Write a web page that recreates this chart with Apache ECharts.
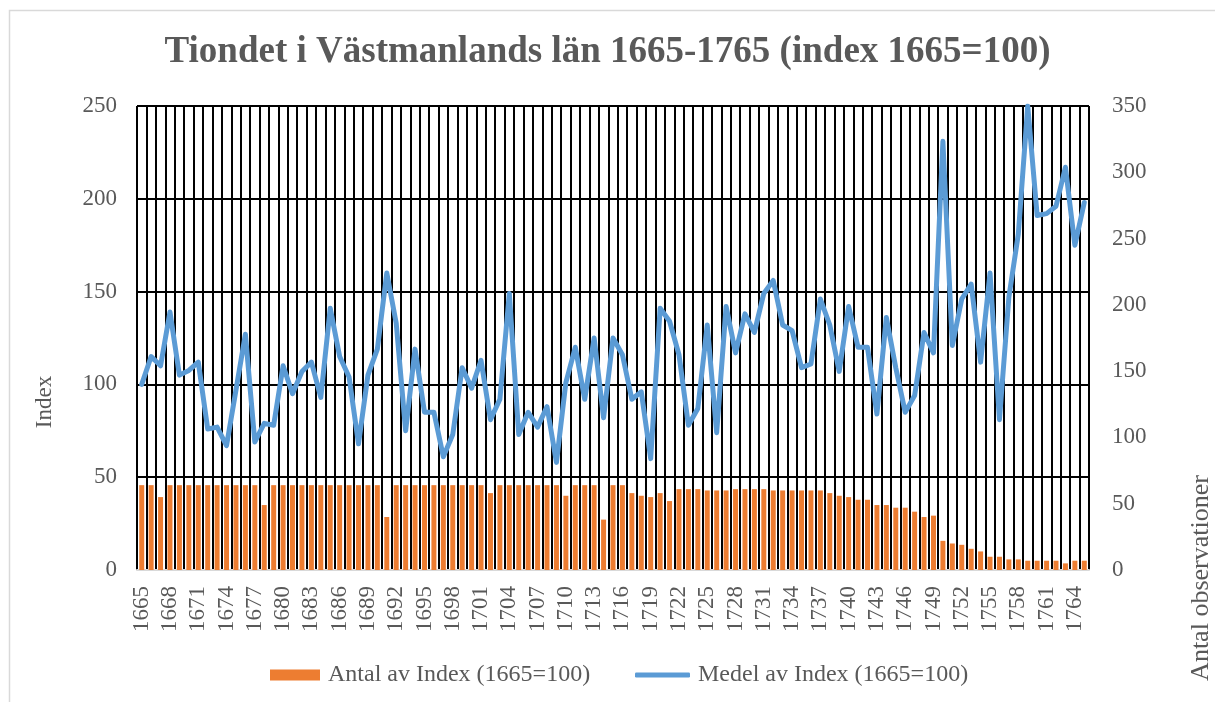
<!DOCTYPE html>
<html>
<head>
<meta charset="utf-8">
<title>Tiondet i Västmanlands län</title>
<script src="https://cdn.jsdelivr.net/npm/echarts@6/dist/echarts.min.js"></script>
<style>
  html, body { margin: 0; padding: 0; background: #fff; }
  #chart { width: 1215px; height: 702px; }
</style>
</head>
<body>
<div id="chart"></div>
<script>
// år 1665-1765
var years = [];
for (var y = 1665; y <= 1765; y++) { years.push(String(y)); }

// Medel av Index (1665=100), vänster axel
var medel = [
  100, 115, 110, 139, 105, 107.5, 112, 76, 77, 67,
  97, 127, 69, 79, 78, 110, 95, 107, 112, 93,
  141, 115, 104, 68, 105, 119, 160, 133, 75, 119,
  85, 85, 61, 73, 109, 98, 113, 81, 92, 149,
  73, 85, 77, 88, 58, 101, 120, 92, 125, 82,
  125, 116, 92, 96, 60, 141, 134, 116, 78, 87,
  132, 74, 142, 117, 138, 128, 149, 156, 132, 129,
  109, 111, 146, 132, 107, 142, 120, 120, 84, 136,
  109, 85, 94, 128, 117, 231, 121, 146, 154, 112,
  160, 81, 147, 181, 250, 191, 192, 196, 217, 175,
  198
];

// Antal av Index (1665=100), höger axel
var antal = [
  64, 64, 55, 64, 64, 64, 64, 64, 64, 64,
  64, 64, 64, 49, 64, 64, 64, 64, 64, 64,
  64, 64, 64, 64, 64, 64, 40, 64, 64, 64,
  64, 64, 64, 64, 64, 64, 64, 58, 64, 64,
  64, 64, 64, 64, 64, 56, 64, 64, 64, 38,
  64, 64, 58, 56, 55, 58, 52, 61, 61, 61,
  60, 60, 60, 61, 61, 61, 61, 60, 60, 60,
  60, 60, 60, 58, 56, 55, 53, 53, 49, 49,
  47, 47, 44, 40, 41, 22, 20, 19, 16, 14,
  10, 10, 8, 8, 7, 7, 7, 7, 5, 7,
  7
];

var serif = "'Liberation Serif', 'DejaVu Serif', serif";
var grey = '#595959';

var chart = echarts.init(document.getElementById('chart'));
chart.setOption({
  animation: false,
  title: {
    text: 'Tiondet i Västmanlands län 1665-1765 (index 1665=100)',
    left: 'center',
    top: 29,
    textStyle: {
      fontFamily: serif,
      fontWeight: 'bold',
      fontSize: 37,
      color: grey
    }
  },
  grid: {
    left: 137,
    right: 126,
    top: 106,
    bottom: 132
  },
  legend: [
    {
      data: ['Antal av Index (1665=100)'],
      left: 265,
      top: 658,
      icon: 'rect',
      itemWidth: 50,
      itemHeight: 11,
      textStyle: { fontFamily: serif, fontSize: 24, color: grey, padding: [0, 0, 0, 3] }
    },
    {
      data: ['Medel av Index (1665=100)'],
      left: 630,
      top: 658,
      icon: 'roundRect',
      itemWidth: 55,
      itemHeight: 5,
      textStyle: { fontFamily: serif, fontSize: 24, color: grey, padding: [0, 0, 0, 3] }
    }
  ],
  xAxis: {
    type: 'category',
    data: years,
    boundaryGap: true,
    axisTick: { show: false },
    axisLine: { show: true, lineStyle: { color: '#d9d9d9', width: 2 } },
    axisLabel: {
      interval: 2,
      rotate: 90,
      margin: 16,
      fontFamily: serif,
      fontSize: 23,
      color: grey
    },
    splitLine: {
      show: true,
      interval: 0,
      lineStyle: { color: '#000', width: 2 }
    }
  },
  yAxis: [
    {
      type: 'value',
      min: 0,
      max: 250,
      interval: 50,
      axisLine: { show: false },
      axisTick: { show: false },
      axisLabel: { margin: 20, fontFamily: serif, fontSize: 23, color: grey },
      splitLine: { show: true, lineStyle: { color: '#000', width: 2 } }
    },
    {
      type: 'value',
      min: 0,
      max: 350,
      interval: 50,
      axisLine: { show: false },
      axisTick: { show: false },
      axisLabel: { margin: 23, fontFamily: serif, fontSize: 23, color: grey },
      splitLine: { show: false }
    }
  ],
  series: [
    {
      name: 'Antal av Index (1665=100)',
      type: 'bar',
      yAxisIndex: 1,
      data: antal,
      barWidth: 5,
      itemStyle: { color: '#ED7D31' }
    },
    {
      name: 'Medel av Index (1665=100)',
      type: 'line',
      yAxisIndex: 0,
      data: medel,
      symbol: 'none',
      z: 5,
      lineStyle: { color: '#5B9BD5', width: 5, join: 'round', cap: 'round' },
      itemStyle: { color: '#5B9BD5' }
    }
  ],
  graphic: [
    {
      type: 'rect',
      silent: true,
      shape: { x: 9.5, y: 10.5, width: 1400, height: 900 },
      style: { fill: 'none', stroke: '#d9d9d9', lineWidth: 1.5 }
    },
    {
      type: 'text',
      x: 45,
      y: 402,
      rotation: Math.PI / 2,
      style: {
        text: 'Index',
        fontFamily: serif,
        fontSize: 23,
        fill: grey,
        align: 'center',
        verticalAlign: 'middle'
      }
    },
    {
      type: 'text',
      x: 1201,
      y: 578,
      rotation: Math.PI / 2,
      style: {
        text: 'Antal observationer',
        fontFamily: serif,
        fontSize: 26,
        fill: grey,
        align: 'center',
        verticalAlign: 'middle'
      }
    }
  ]
});
</script>
</body>
</html>
